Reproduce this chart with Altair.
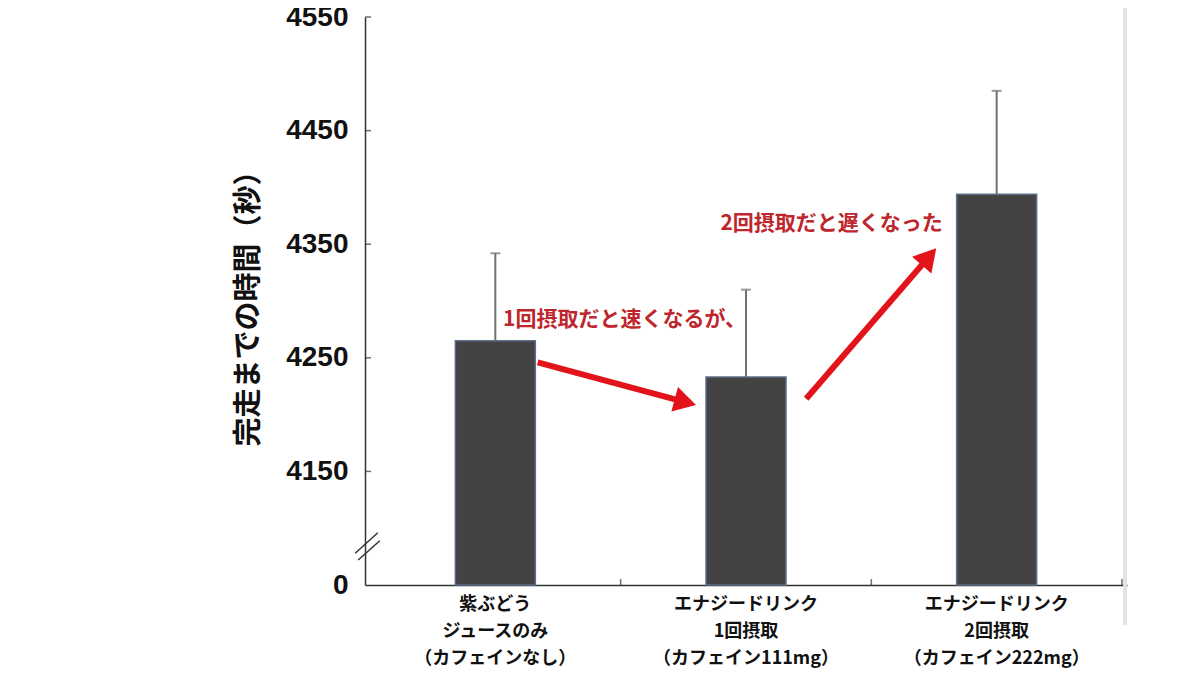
import altair as alt
import pandas as pd

# ---- data ----
categories = [
    "紫ぶどう\nジュースのみ\n（カフェインなし）",
    "エナジードリンク\n1回摂取\n（カフェイン111mg）",
    "エナジードリンク\n2回摂取\n（カフェイン222mg）",
]
cat_pos = [0.5, 1.5, 2.5]
means = [4265, 4233, 4394]
upper = [4342, 4310, 4485]

y_tick_values = [4050, 4150, 4250, 4350, 4450, 4550]
y_base = 4050          # shown as "0" (broken axis)
x_boundaries = [1, 2, 3]

# annotation arrows (data units): start -> head centre
arrow_x = [0.669, 1.740]
arrow_y = [4246, 4214]
arrow_x2 = [1.258, 2.230]
arrow_y2 = [4211, 4339]
arrow_angle = [15, 311]

note_text = ["1回摂取だと速くなるが、", "2回摂取だと遅くなった"]
note_x = [0.531, 1.398]
note_y = [4283, 4368]

# axis-break slashes
brk_x = [-0.059, -0.047]
brk_x2 = [0.031, 0.039]
brk_y = [4078, 4072]
brk_y2 = [4096, 4089]

W, H = 762, 568
RED = "#e3131b"
TXT_RED = "#be262c"
JP = "Noto Sans CJK JP"

df = pd.DataFrame({"cat": categories, "pos": cat_pos, "mean": means, "upper": upper})
ticks_df = pd.DataFrame({"v": y_tick_values[1:]})
xticks_df = pd.DataFrame({"v": x_boundaries})
arrows_df = pd.DataFrame({"x": arrow_x, "y": arrow_y, "x2": arrow_x2, "y2": arrow_y2, "ang": arrow_angle})
notes_df = pd.DataFrame({"t": note_text, "x": note_x, "y": note_y})
brk_df = pd.DataFrame({"x": brk_x, "x2": brk_x2, "y": brk_y, "y2": brk_y2})

xscale = alt.Scale(domain=[0, 3], nice=False, zero=False)
yscale = alt.Scale(domain=[4050, 4550], nice=False, zero=False)

X = alt.X("pos:Q", scale=xscale,
          axis=alt.Axis(labels=False, ticks=False, grid=False, title=None,
                        domainColor="#333333", domainWidth=1.5))
Y = alt.Y("mean:Q", scale=yscale,
          axis=alt.Axis(values=y_tick_values, format="d",
                        labelExpr="datum.value == 4050 ? '0' : datum.label",
                        ticks=False, grid=False, domainColor="#333333", domainWidth=1.5,
                        labelFont="Liberation Sans", labelFontSize=28, labelFontWeight="bold",
                        labelColor="#111111", labelPadding=17,
                        title="完走までの時間（秒）", titleFont=JP, titleFontSize=29,
                        titleFontWeight="bold", titleColor="#111111", titlePadding=22))

base = alt.Chart(df)

bars = base.mark_bar(size=80, color="#434343", stroke="#5d6f88", strokeWidth=1.5).encode(
    x=X, y=Y, y2=alt.datum(y_base))

err = base.mark_rule(color="#707070", strokeWidth=2).encode(
    x="pos:Q", y="mean:Q", y2="upper:Q")
caps = base.mark_tick(orient="horizontal", size=10, thickness=2, color="#707070").encode(
    x="pos:Q", y="upper:Q")

yticks = alt.Chart(ticks_df).mark_tick(orient="horizontal", size=6, thickness=1.5,
                                       color="#333333").encode(
    y="v:Q", x=alt.value(3))
xticks = alt.Chart(xticks_df).mark_tick(orient="vertical", size=6, thickness=1.5,
                                        color="#333333").encode(
    x="v:Q", y=alt.value(H - 3))

gap = alt.Chart(df).mark_rule(color="white", strokeWidth=4).encode(
    x=alt.datum(0), y=alt.datum(4082), y2=alt.datum(4089))
slashes = alt.Chart(brk_df).mark_rule(color="#333333", strokeWidth=1.5).encode(
    x="x:Q", x2="x2:Q", y="y:Q", y2="y2:Q")

arrow_lines = alt.Chart(arrows_df).mark_rule(color=RED, strokeWidth=6).encode(
    x="x:Q", x2="x2:Q", y="y:Q", y2="y2:Q")
arrow_heads = alt.Chart(arrows_df).mark_point(shape="triangle-right", filled=True,
                                              size=650, color=RED, opacity=1).encode(
    x="x2:Q", y="y2:Q", angle=alt.Angle("ang:Q", scale=None))

notes = alt.Chart(notes_df).mark_text(align="left", baseline="middle", font=JP,
                                      fontSize=21, fontWeight="bold", color=TXT_RED).encode(
    x="x:Q", y="y:Q", text="t:N")

xlabels = base.mark_text(lineBreak="\n", baseline="middle", align="center", font=JP,
                         fontSize=18, fontWeight="bold", lineHeight=27, color="#111111").encode(
    x="pos:Q", y=alt.value(H + 20), text="cat:N")

edge = alt.Chart(df).mark_rule(color="#e2e2e2", strokeWidth=3).encode(
    x=alt.datum(3.012), y=alt.value(-17), y2=alt.value(H + 40))

chart = alt.layer(
    edge, bars, err, caps, yticks, xticks, gap, slashes,
    arrow_lines, arrow_heads, notes, xlabels
).properties(
    width=W, height=H,
    autosize=alt.AutoSizeParams(type="none"),
    padding={"left": 357, "top": 9, "right": 60, "bottom": 90},
    background="white",
).configure_view(stroke=None)

chart.save("out.html", embed_options={"renderer": "svg", "actions": False})
